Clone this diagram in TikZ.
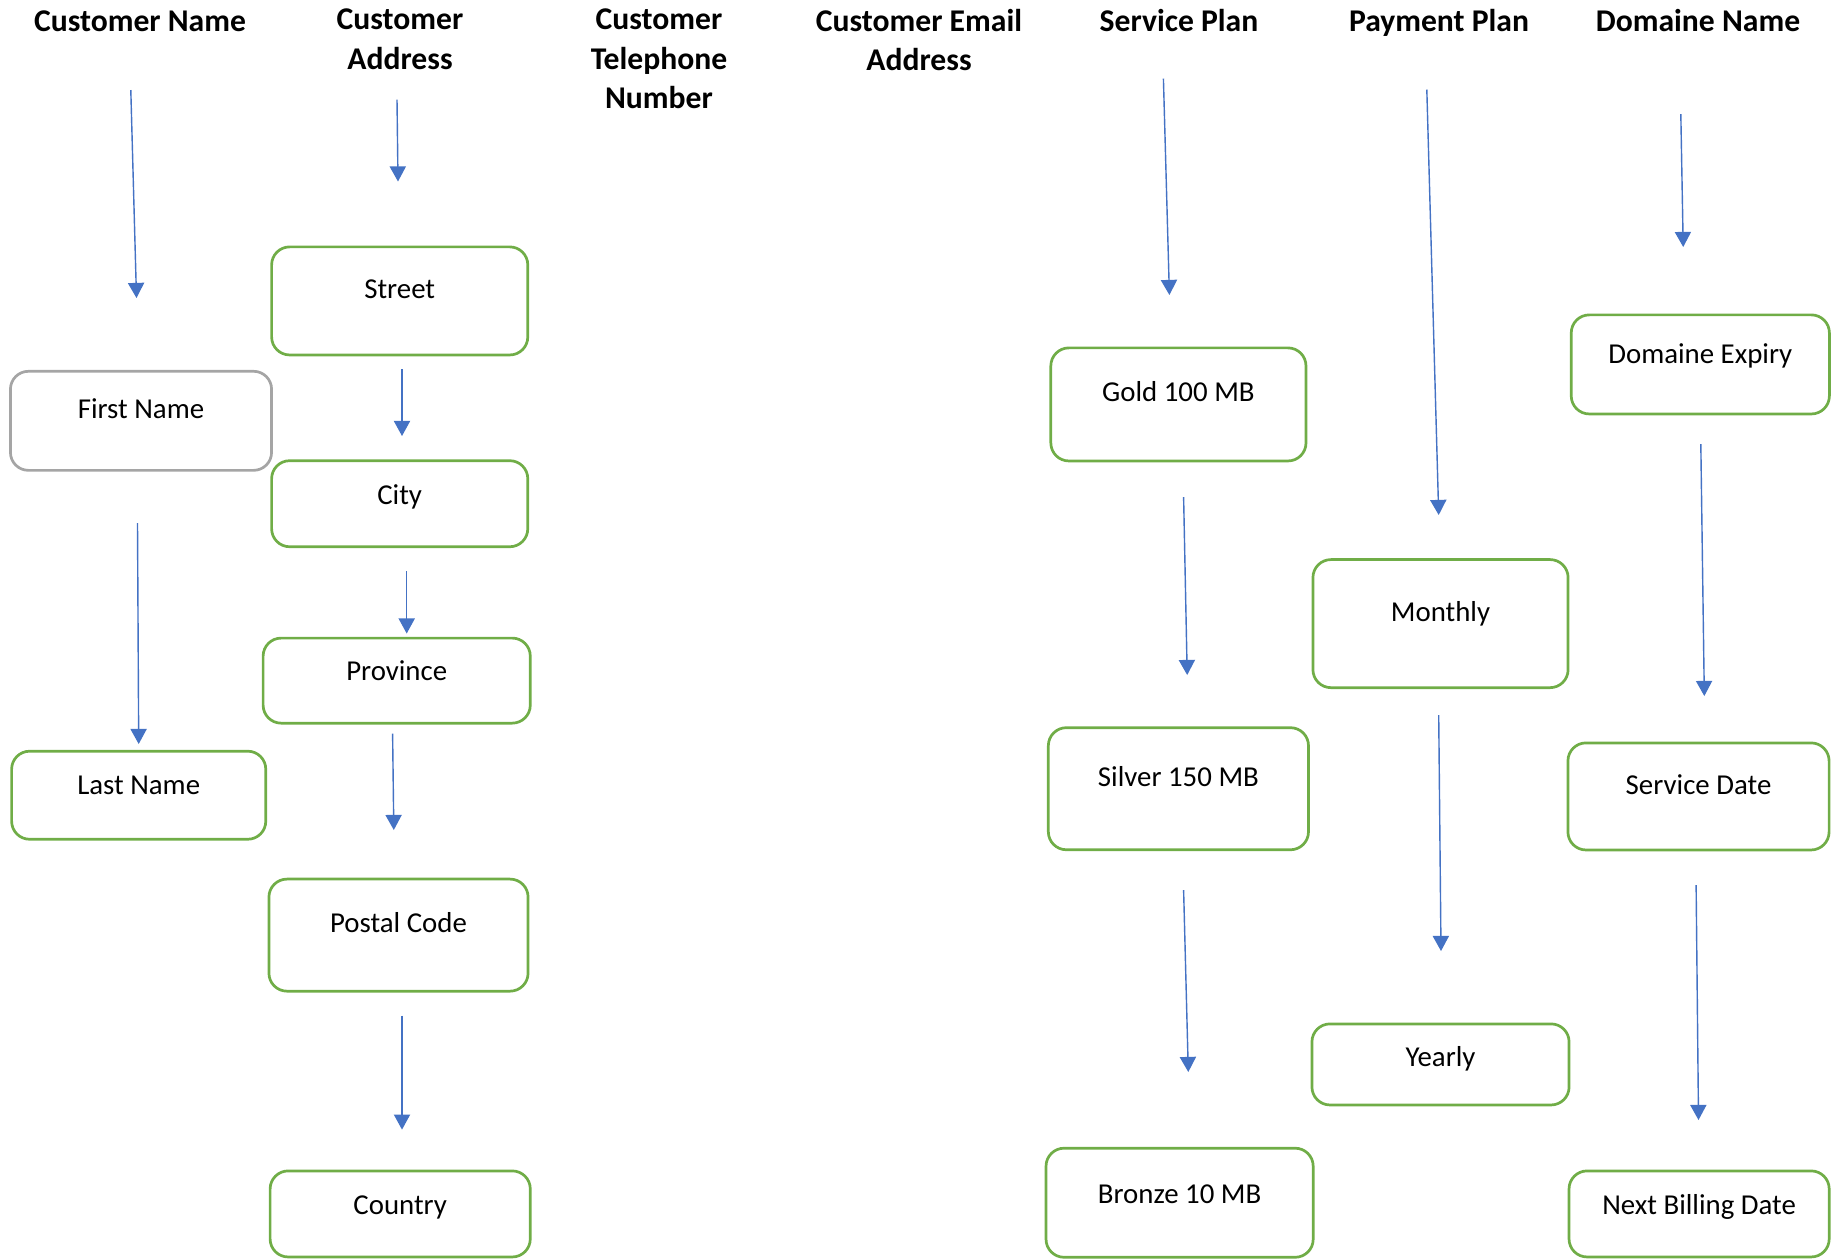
\documentclass[tikz,border=0pt]{standalone}
\usepackage{fontspec}
\setmainfont{Carlito}
\usepackage{tikz}
\usetikzlibrary{arrows.meta}
\definecolor{boxgreen}{HTML}{70AD47}
\definecolor{boxgray}{HTML}{A5A5A5}
\definecolor{arrowblue}{HTML}{4472C4}

\begin{document}
\begin{tikzpicture}[x=0.01cm, y=-0.01cm,
    head/.style={align=center, anchor=north, inner sep=0pt,
        font=\fontsize{9pt}{11.1pt}\selectfont\bfseries,
        execute at begin node=\vphantom{l}},
    box/.style={draw=boxgreen, line width=0.77pt, rounded corners=0.18cm, inner sep=0pt},
    lbl/.style={inner sep=0pt, text height=5.3pt, text depth=0pt,
        font=\fontsize{8.2pt}{10pt}\selectfont},
    arr/.style={color=arrowblue, line width=0.4pt, -{Triangle[width=4.6pt,length=4.3pt]}}]
\useasboundingbox (0,0) rectangle (1843,1259);
% column headings
\node[head] (cname) at (140,8.5) {Customer Name};
\node[head] (caddr) at (400,8.5) {Customer\\Address};
\node[head] (ctel) at (659,8.5) {Customer\\Telephone\\Number};
\node[head] (cmail) at (919,8.5) {Customer Email\\Address};
\node[head] (splan) at (1179,8.5) {Service Plan};
\node[head] (pplan) at (1439,8.5) {Payment Plan};
\node[head] (dname) at (1698,8.5) {Domaine Name};

% customer name
\node[box, draw=boxgray, minimum width=2.61cm, minimum height=0.99cm] (first) at (141,420.8) {};
\node[lbl] (firstt) at (141,409) {First Name};
\node[box, minimum width=2.54cm, minimum height=0.88cm] (last) at (138.7,795.2) {};
\node[lbl] (lastt) at (138.7,785.2) {Last Name};

% customer address
\node[box, minimum width=2.56cm, minimum height=1.08cm] (street) at (399.7,300.9) {};
\node[lbl] (streett) at (399.7,289.2) {Street};
\node[box, minimum width=2.56cm, minimum height=0.86cm] (city) at (399.7,503.7) {};
\node[lbl] (cityt) at (399.7,494.8) {City};
\node[box, minimum width=2.67cm, minimum height=0.85cm] (prov) at (396.7,680.6) {};
\node[lbl] (provt) at (396.7,671.2) {Province};
\node[box, minimum width=2.59cm, minimum height=1.12cm] (postal) at (398.5,935.1) {};
\node[lbl] (postalt) at (398.5,922.7) {Postal Code};
\node[box, minimum width=2.60cm, minimum height=0.86cm] (country) at (400.2,1213.9) {};
\node[lbl] (countryt) at (400.2,1204.8) {Country};

% service plan
\node[box, minimum width=2.55cm, minimum height=1.13cm] (gold) at (1178.4,404.4) {};
\node[lbl] (goldt) at (1178.4,392.6) {Gold 100 MB};
\node[box, minimum width=2.60cm, minimum height=1.22cm] (silver) at (1178.4,788.7) {};
\node[lbl] (silvert) at (1178.4,777) {Silver 150 MB};
\node[box, minimum width=2.67cm, minimum height=1.09cm] (bronze) at (1179.6,1202.7) {};
\node[lbl] (bronzet) at (1179.6,1194.2) {Bronze 10 MB};

% payment plan
\node[box, minimum width=2.55cm, minimum height=1.28cm] (month) at (1440.5,623.6) {};
\node[lbl] (montht) at (1440.5,612.4) {Monthly};
\node[box, minimum width=2.57cm, minimum height=0.81cm] (year) at (1440.5,1064.4) {};
\node[lbl] (yeart) at (1440.5,1056.7) {Yearly};

% domaine name
\node[box, minimum width=2.58cm, minimum height=0.99cm] (expiry) at (1700.3,364.4) {};
\node[lbl] (expiryt) at (1700.3,353.8) {Domaine Expiry};
\node[box, minimum width=2.61cm, minimum height=1.07cm] (sdate) at (1698.5,796.4) {};
\node[lbl] (sdatet) at (1698.5,785.2) {Service Date};
\node[box, minimum width=2.60cm, minimum height=0.86cm] (nbill) at (1699.1,1213.9) {};
\node[lbl] (nbillt) at (1699.1,1204.8) {Next Billing Date};

% arrow ends
\coordinate (s1) at (130.8,90);    \coordinate (e1) at (136.5,298);
\coordinate (s2) at (397,99.5);    \coordinate (e2) at (398,181.5);
\coordinate (s3) at (402,369);     \coordinate (e3) at (402,436);
\coordinate (s4) at (406.7,571);   \coordinate (e4) at (406.7,633.5);
\coordinate (s5) at (392.6,733.5); \coordinate (e5) at (393.8,830);
\coordinate (s6) at (402,1015.5);  \coordinate (e6) at (402,1129.6);
\coordinate (s7) at (137.5,523);   \coordinate (e7) at (138.7,744);
\coordinate (s8) at (1163.4,78.5); \coordinate (e8) at (1169.4,295);
\coordinate (s9) at (1183.6,497);  \coordinate (e9) at (1187.2,675);
\coordinate (s10) at (1183.6,890); \coordinate (e10) at (1188.3,1072);
\coordinate (s11) at (1426.8,89.5);\coordinate (e11) at (1438.7,515);
\coordinate (s12) at (1438.7,715); \coordinate (e12) at (1441,951);
\coordinate (s13) at (1680.8,114); \coordinate (e13) at (1683.2,247);
\coordinate (s14) at (1700.8,444); \coordinate (e14) at (1704.3,696);
\coordinate (s15) at (1696.1,885); \coordinate (e15) at (1698.5,1120);

\draw [arr] (s1) -- (e1);
\draw [arr] (s2) -- (e2);
\draw [arr] (s3) -- (e3);
\draw [arr] (s4) -- (e4);
\draw [arr] (s5) -- (e5);
\draw [arr] (s6) -- (e6);
\draw [arr] (s7) -- (e7);
\draw [arr] (s8) -- (e8);
\draw [arr] (s9) -- (e9);
\draw [arr] (s10) -- (e10);
\draw [arr] (s11) -- (e11);
\draw [arr] (s12) -- (e12);
\draw [arr] (s13) -- (e13);
\draw [arr] (s14) -- (e14);
\draw [arr] (s15) -- (e15);
\end{tikzpicture}
\end{document}
